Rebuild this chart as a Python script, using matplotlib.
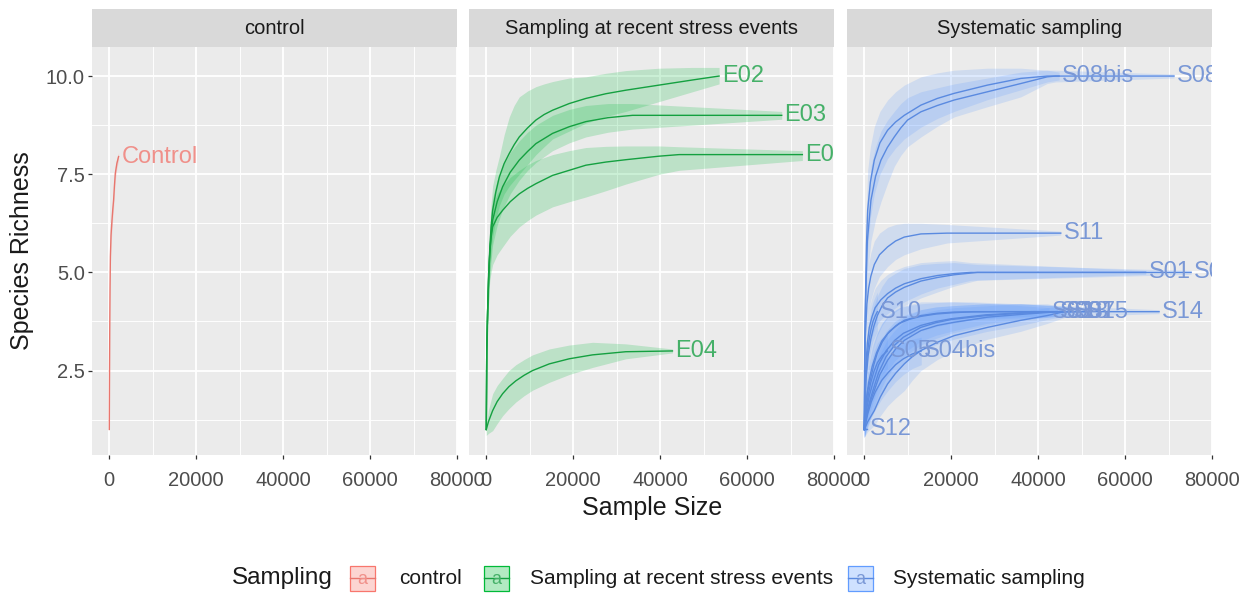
import matplotlib
matplotlib.use('Agg')
import matplotlib.pyplot as plt
from matplotlib.patches import Rectangle
from matplotlib.lines import Line2D

plt.rcParams['font.family'] = ['Liberation Sans', 'DejaVu Sans']

W, H = 1241, 596

# ---------------- data ----------------
panel_titles = ['control', 'Sampling at recent stress events', 'Systematic sampling']
group_colors = ['#F8766D', '#00BA38', '#619CFF']
line_colors = ['#E8766E', '#14A040', '#5A8AE0']
label_colors = ['#F0908A', '#45B068', '#7A98D6']

x_ticks = [0, 20000, 40000, 60000, 80000]
x_ticklabels = ['0', '20000', '40000', '60000', '80000']
y_ticks = [2.5, 5.0, 7.5, 10.0]
y_ticklabels = ['2.5', '5.0', '7.5', '10.0']

# control
Control_size = [1, 50, 100, 170, 250, 400, 620, 800, 990, 1180, 1380, 1750, 2140]
Control_rich = [1, 2.4, 3.5, 4.6, 5.4, 5.95, 6.33, 6.6, 6.84, 7.2, 7.52, 7.78, 7.95]
Control_lo = [0.95, 2.25, 3.3, 4.4, 5.15, 5.7, 6.08, 6.38, 6.62, 7.0, 7.35, 7.65, 7.85]
Control_hi = [1.05, 2.55, 3.7, 4.8, 5.65, 6.2, 6.58, 6.82, 7.06, 7.4, 7.69, 7.91, 8.05]

# sampling at recent stress events
E02_size = [1, 100, 300, 550, 800, 1100, 1460, 2200, 3000, 4100, 5290, 6400, 7590, 9500, 11420, 13300, 15250, 19080, 22910, 27500, 32110, 39770, 47430, 53560]
E02_rich = [1, 3.0, 4.0, 5.0, 5.6, 6.15, 6.58, 7.05, 7.43, 7.77, 8.03, 8.25, 8.45, 8.68, 8.88, 9.02, 9.13, 9.3, 9.43, 9.55, 9.64, 9.77, 9.9, 10.0]
E02_lo = [0.8, 2.5, 3.5, 4.4, 5.0, 5.5, 5.9, 6.35, 6.7, 7.0, 7.2, 7.35, 7.5, 7.75, 8.0, 8.2, 8.4, 8.6, 8.8, 8.97, 9.1, 9.35, 9.6, 9.8]
E02_hi = [1.2, 3.5, 4.5, 5.6, 6.2, 6.75, 7.2, 7.6, 7.95, 8.5, 8.96, 9.25, 9.47, 9.62, 9.73, 9.8, 9.86, 9.95, 9.98, 10.07, 10.14, 10.2, 10.22, 10.22]

E03_size = [1, 100, 300, 550, 800, 1100, 1460, 2500, 3750, 5500, 7590, 9500, 11420, 15250, 19080, 22910, 28000, 33640, 67970]
E03_rich = [1, 3.0, 4.0, 4.9, 5.5, 5.95, 6.33, 6.8, 7.18, 7.55, 7.86, 8.08, 8.28, 8.54, 8.71, 8.84, 8.94, 9.0, 9.0]
E03_lo = [0.8, 2.5, 3.5, 4.3, 4.9, 5.3, 5.7, 6.2, 6.6, 7.0, 7.35, 7.6, 7.8, 8.1, 8.3, 8.45, 8.57, 8.65, 8.9]
E03_hi = [1.2, 3.5, 4.5, 5.5, 6.1, 6.55, 6.9, 7.35, 7.7, 8.05, 8.35, 8.57, 8.75, 9.0, 9.15, 9.25, 9.3, 9.3, 9.1]

E01_size = [1, 100, 300, 550, 800, 1100, 1460, 2500, 3750, 5500, 7590, 9500, 11420, 15250, 19080, 22910, 27500, 32110, 39770, 44370, 72720]
E01_rich = [1, 3.0, 4.0, 4.9, 5.5, 5.88, 6.16, 6.4, 6.58, 6.8, 7.0, 7.14, 7.26, 7.47, 7.6, 7.73, 7.81, 7.87, 7.96, 8.0, 8.0]
E01_lo = [0.8, 2.5, 3.5, 4.3, 4.8, 5.0, 5.2, 5.45, 5.65, 5.92, 6.16, 6.32, 6.46, 6.67, 6.8, 6.92, 7.08, 7.25, 7.5, 7.6, 7.85]
E01_hi = [1.2, 3.5, 4.5, 5.5, 6.0, 6.4, 6.7, 7.0, 7.2, 7.42, 7.6, 7.74, 7.85, 8.0, 8.1, 8.18, 8.21, 8.22, 8.22, 8.2, 8.1]

E04_size = [1, 500, 1460, 2500, 3750, 5200, 6810, 8700, 10640, 14480, 19070, 24440, 32110, 42830]
E04_rich = [1, 1.2, 1.48, 1.71, 1.91, 2.09, 2.24, 2.38, 2.5, 2.67, 2.80, 2.90, 2.98, 3.0]
E04_lo = [0.85, 0.9, 0.97, 1.15, 1.35, 1.53, 1.7, 1.86, 2.0, 2.2, 2.4, 2.58, 2.8, 2.95]
E04_hi = [1.1, 1.5, 1.91, 2.12, 2.3, 2.5, 2.65, 2.78, 2.9, 3.05, 3.15, 3.22, 3.18, 3.05]

# systematic sampling
S08bis_size = [1, 100, 300, 500, 770, 1400, 2300, 3600, 5360, 7200, 9200, 13030, 16800, 20690, 28350, 36020, 42070, 44830]
S08bis_rich = [1, 3.2, 4.5, 5.7, 6.58, 7.3, 7.86, 8.3, 8.62, 8.83, 9.0, 9.26, 9.43, 9.56, 9.77, 9.94, 10.0, 10.0]
S08bis_lo = [0.8, 2.7, 3.8, 4.8, 5.6, 6.4, 7.0, 7.5, 7.9, 8.17, 8.4, 8.7, 8.92, 9.1, 9.4, 9.65, 9.85, 9.9]
S08bis_hi = [1.2, 3.7, 5.2, 6.6, 7.6, 8.2, 8.71, 9.1, 9.39, 9.6, 9.77, 9.98, 10.08, 10.15, 10.2, 10.2, 10.15, 10.1]

S08_size = [1, 100, 300, 700, 1530, 2600, 3830, 5300, 6900, 8400, 9960, 13030, 16800, 20690, 28350, 36020, 42070, 44000, 71260]
S08_rich = [1, 3.0, 4.3, 5.8, 6.84, 7.45, 7.86, 8.18, 8.45, 8.68, 8.88, 9.09, 9.25, 9.39, 9.6, 9.81, 9.98, 10.0, 10.0]
S08_lo = [0.8, 2.5, 3.6, 4.9, 5.8, 6.35, 6.8, 7.25, 7.7, 7.98, 8.2, 8.45, 8.72, 8.96, 9.22, 9.47, 9.81, 9.85, 9.95]
S08_hi = [1.2, 3.5, 5.0, 6.7, 7.7, 8.2, 8.6, 8.87, 9.1, 9.3, 9.45, 9.6, 9.7, 9.8, 9.95, 10.1, 10.15, 10.15, 10.05]

S11_size = [1, 200, 600, 1000, 1500, 2300, 3500, 5360, 7200, 9200, 13030, 19080, 45200]
S11_rich = [1, 3.3, 4.2, 4.6, 4.9, 5.2, 5.45, 5.65, 5.8, 5.9, 5.98, 6.0, 6.0]
S11_lo = [0.8, 2.8, 3.6, 4.0, 4.3, 4.6, 4.9, 5.15, 5.33, 5.45, 5.6, 5.75, 5.95]
S11_hi = [1.2, 3.8, 4.8, 5.2, 5.5, 5.8, 6.0, 6.15, 6.22, 6.25, 6.25, 6.22, 6.05]

S01_size = [1, 300, 700, 1150, 1800, 2500, 3800, 5360, 7200, 9200, 13030, 16800, 20690, 24520, 64750]
S01_rich = [1, 2.5, 3.2, 3.6, 3.88, 4.1, 4.3, 4.46, 4.6, 4.71, 4.84, 4.92, 4.97, 5.0, 5.0]
S01_lo = [0.8, 2.0, 2.7, 3.1, 3.38, 3.6, 3.8, 3.95, 4.1, 4.25, 4.45, 4.6, 4.7, 4.8, 4.95]
S01_hi = [1.2, 3.0, 3.7, 4.1, 4.38, 4.6, 4.8, 4.95, 5.06, 5.15, 5.25, 5.28, 5.3, 5.25, 5.05]

S02_size = [1, 400, 900, 1500, 2200, 3000, 4100, 5360, 7200, 9200, 13030, 16800, 20690, 26000, 75200]
S02_rich = [1, 2.3, 2.9, 3.3, 3.63, 3.9, 4.15, 4.35, 4.5, 4.62, 4.78, 4.87, 4.94, 5.0, 5.0]
S02_lo = [0.8, 1.8, 2.4, 2.8, 3.13, 3.4, 3.65, 3.85, 4.0, 4.15, 4.35, 4.5, 4.65, 4.8, 4.95]
S02_hi = [1.2, 2.8, 3.4, 3.8, 4.13, 4.4, 4.65, 4.85, 4.98, 5.1, 5.2, 5.23, 5.25, 5.2, 5.05]

S03_size = [1, 300, 800, 1530, 2200, 3000, 4100, 5360, 7200, 9200, 13030, 16800, 20690, 30000, 42500]
S03_rich = [1, 1.6, 2.0, 2.33, 2.65, 2.95, 3.22, 3.44, 3.63, 3.78, 3.9, 3.96, 3.99, 4.0, 4.0]
S03_lo = [0.8, 1.2, 1.5, 1.8, 2.1, 2.4, 2.7, 2.95, 3.15, 3.3, 3.6, 3.7, 3.75, 3.85, 3.9]
S03_hi = [1.2, 2.0, 2.45, 2.85, 3.17, 3.45, 3.7, 3.9, 4.05, 4.15, 4.25, 4.25, 4.25, 4.2, 4.1]

S09_size = [1, 800, 1500, 2300, 3600, 5360, 7200, 9200, 13030, 16800, 20690, 28350, 36020, 42070, 44400]
S09_rich = [1, 1.5, 1.75, 1.99, 2.4, 2.76, 3.05, 3.27, 3.52, 3.65, 3.73, 3.86, 3.93, 3.98, 4.0]
S09_lo = [0.8, 1.1, 1.3, 1.5, 1.85, 2.2, 2.47, 2.7, 3.0, 3.17, 3.3, 3.5, 3.65, 3.8, 3.85]
S09_hi = [1.2, 1.9, 2.2, 2.5, 2.92, 3.3, 3.55, 3.75, 3.95, 4.05, 4.1, 4.15, 4.2, 4.2, 4.15]

S13_size = [1, 800, 1500, 2300, 3700, 5360, 7200, 9200, 11000, 13030, 16800, 20690, 28350, 36020, 42070, 46000]
S13_rich = [1, 1.2, 1.33, 1.48, 1.83, 2.16, 2.43, 2.67, 2.85, 3.01, 3.22, 3.39, 3.6, 3.78, 3.9, 4.0]
S13_lo = [0.8, 0.95, 1.02, 1.1, 1.35, 1.6, 1.8, 1.99, 2.25, 2.5, 2.78, 3.0, 3.3, 3.5, 3.7, 3.85]
S13_hi = [1.2, 1.5, 1.7, 1.9, 2.33, 2.75, 3.05, 3.3, 3.42, 3.5, 3.65, 3.75, 3.9, 4.0, 4.1, 4.15]

S07_size = [1, 500, 1200, 2000, 3300, 5000, 7000, 9000, 13000, 16500, 20000, 28000, 36000, 43000, 47500]
S07_rich = [1, 1.5, 1.88, 2.2, 2.65, 3.0, 3.27, 3.45, 3.65, 3.75, 3.82, 3.92, 3.97, 4.0, 4.0]
S07_lo = [0.8, 1.1, 1.4, 1.7, 2.1, 2.45, 2.75, 2.95, 3.25, 3.4, 3.5, 3.7, 3.8, 3.88, 3.9]
S07_hi = [1.2, 1.9, 2.33, 2.7, 3.15, 3.5, 3.75, 3.9, 4.05, 4.12, 4.15, 4.2, 4.2, 4.15, 4.1]

S15_size = [1, 600, 1200, 2000, 3300, 5000, 7000, 9000, 13000, 16500, 20000, 28000, 36000, 44000, 50600]
S15_rich = [1, 1.4, 1.7, 2.0, 2.45, 2.85, 3.15, 3.35, 3.6, 3.72, 3.8, 3.9, 3.96, 4.0, 4.0]
S15_lo = [0.8, 1.05, 1.25, 1.5, 1.9, 2.3, 2.62, 2.85, 3.15, 3.32, 3.45, 3.65, 3.78, 3.88, 3.9]
S15_hi = [1.2, 1.75, 2.1, 2.5, 2.98, 3.4, 3.68, 3.85, 4.05, 4.12, 4.15, 4.2, 4.2, 4.15, 4.1]

S14_size = [1, 400, 1000, 1800, 2800, 4000, 5800, 8000, 10500, 13000, 16500, 20000, 25000, 67820]
S14_rich = [1, 1.7, 2.2, 2.6, 2.95, 3.25, 3.5, 3.7, 3.81, 3.88, 3.94, 3.97, 4.0, 4.0]
S14_lo = [0.8, 1.3, 1.75, 2.1, 2.45, 2.75, 3.02, 3.25, 3.4, 3.5, 3.62, 3.7, 3.8, 3.95]
S14_hi = [1.2, 2.1, 2.65, 3.1, 3.43, 3.7, 3.92, 4.1, 4.16, 4.2, 4.23, 4.25, 4.25, 4.05]

S10_size = [1, 200, 400, 600, 900, 1200, 1600, 2000, 2500, 3000]
S10_rich = [1, 2.0, 2.45, 2.8, 3.1, 3.35, 3.58, 3.75, 3.89, 4.0]
S10_lo = [0.8, 1.6, 2.0, 2.3, 2.6, 2.85, 3.08, 3.25, 3.38, 3.5]
S10_hi = [1.2, 2.4, 2.9, 3.3, 3.6, 3.85, 4.08, 4.25, 4.38, 4.5]

S05_size = [1, 500, 1000, 1500, 2200, 3000, 4100, 5300]
S05_rich = [1, 1.6, 1.93, 2.2, 2.47, 2.7, 2.88, 3.0]
S05_lo = [0.8, 1.2, 1.46, 1.7, 1.96, 2.2, 2.4, 2.55]
S05_hi = [1.2, 2.0, 2.4, 2.7, 2.98, 3.2, 3.35, 3.45]

S04bis_size = [1, 800, 1600, 2500, 4000, 5500, 7200, 9000, 11000, 13100]
S04bis_rich = [1, 1.4, 1.7, 1.95, 2.25, 2.45, 2.65, 2.8, 2.92, 3.0]
S04bis_lo = [0.8, 1.05, 1.3, 1.5, 1.78, 2.0, 2.22, 2.4, 2.55, 2.65]
S04bis_hi = [1.2, 1.75, 2.1, 2.4, 2.7, 2.9, 3.07, 3.2, 3.3, 3.35]

S12_size = [1, 700]
S12_rich = [1, 1]
S12_lo = [0.95, 0.95]
S12_hi = [1.05, 1.05]

curves = [
    (0, 'Control', Control_size, Control_rich, Control_lo, Control_hi),
    (1, 'E02', E02_size, E02_rich, E02_lo, E02_hi),
    (1, 'E03', E03_size, E03_rich, E03_lo, E03_hi),
    (1, 'E01', E01_size, E01_rich, E01_lo, E01_hi),
    (1, 'E04', E04_size, E04_rich, E04_lo, E04_hi),
    (2, 'S08bis', S08bis_size, S08bis_rich, S08bis_lo, S08bis_hi),
    (2, 'S08', S08_size, S08_rich, S08_lo, S08_hi),
    (2, 'S11', S11_size, S11_rich, S11_lo, S11_hi),
    (2, 'S01', S01_size, S01_rich, S01_lo, S01_hi),
    (2, 'S02', S02_size, S02_rich, S02_lo, S02_hi),
    (2, 'S03', S03_size, S03_rich, S03_lo, S03_hi),
    (2, 'S09', S09_size, S09_rich, S09_lo, S09_hi),
    (2, 'S13', S13_size, S13_rich, S13_lo, S13_hi),
    (2, 'S07', S07_size, S07_rich, S07_lo, S07_hi),
    (2, 'S15', S15_size, S15_rich, S15_lo, S15_hi),
    (2, 'S14', S14_size, S14_rich, S14_lo, S14_hi),
    (2, 'S10', S10_size, S10_rich, S10_lo, S10_hi),
    (2, 'S05', S05_size, S05_rich, S05_lo, S05_hi),
    (2, 'S04bis', S04bis_size, S04bis_rich, S04bis_lo, S04bis_hi),
    (2, 'S12', S12_size, S12_rich, S12_lo, S12_hi),
]

legend_title = 'Sampling'
legend_labels = ['control', 'Sampling at recent stress events', 'Systematic sampling']

# ---------------- layout ----------------
fig = plt.figure(figsize=(W / 100, H / 100), dpi=100)

panel_left_px = [92, 469, 847]
panel_w_px = 365
plot_top_px, plot_bot_px = 47, 455
strip_top_px = 9

axes = []
for i in range(3):
    l = panel_left_px[i] / W
    b = 1 - plot_bot_px / H
    w = panel_w_px / W
    h = (plot_bot_px - plot_top_px) / H
    ax = fig.add_axes([l, b, w, h])
    ax.set_facecolor('#EBEBEB')
    for sp in ax.spines.values():
        sp.set_visible(False)
    ax.set_xlim(-3980, 80000)
    ax.set_ylim(0.35, 10.74)
    ax.set_xticks(x_ticks)
    ax.set_xticklabels(x_ticklabels)
    ax.set_xticks([10000, 30000, 50000, 70000], minor=True)
    ax.set_yticks(y_ticks)
    ax.set_yticks([1.25, 3.75, 6.25, 8.75], minor=True)
    if i == 0:
        ax.set_yticklabels(y_ticklabels)
    else:
        ax.tick_params(axis='y', which='major', labelleft=False)
    ax.grid(which='major', color='white', linewidth=1.3)
    ax.grid(which='minor', color='white', linewidth=0.65)
    ax.set_axisbelow(True)
    ax.tick_params(which='major', length=3.2, width=0.9, color='#333333',
                   labelsize=14.5, labelcolor='#4D4D4D')
    ax.tick_params(axis='x', which='major', pad=8)
    ax.tick_params(axis='y', which='major', pad=2.0, length=3.2 if i == 0 else 0)
    ax.tick_params(which='minor', length=0)
    axes.append(ax)

    sax = fig.add_axes([l, 1 - plot_top_px / H, w, (plot_top_px - strip_top_px) / H])
    sax.set_facecolor('#D9D9D9')
    for sp in sax.spines.values():
        sp.set_visible(False)
    sax.set_xticks([])
    sax.set_yticks([])
    sax.text(0.5, 0.5, panel_titles[i], ha='center', va='center',
             fontsize=14.5, color='#1A1A1A', transform=sax.transAxes)

# ribbons
for p, name, sz, rich, lo, hi in curves:
    axes[p].fill_between(sz, lo, hi, color=group_colors[p], alpha=0.2, linewidth=0, zorder=2)
# lines
for p, name, sz, rich, lo, hi in curves:
    axes[p].plot(sz, rich, color=line_colors[p], linewidth=1.0, zorder=3)
# labels
for p, name, sz, rich, lo, hi in curves:
    axes[p].annotate(name, (sz[-1], rich[-1]), xytext=(2, 0), textcoords='offset points',
                     ha='left', va='center', fontsize=17, color=label_colors[p],
                     clip_on=True, zorder=4)

# axis titles
fig.text(22 / W, 1 - 251 / H, 'Species Richness', rotation=90, ha='center', va='center',
         fontsize=18, color='#1A1A1A')
fig.text(652 / W, 1 - 508 / H, 'Sample Size', ha='center', va='center',
         fontsize=18, color='#1A1A1A')

# legend (manual)
ly = 578
fig.text(232 / W, 1 - ly / H, legend_title, ha='left', va='center', fontsize=17.5, color='#1A1A1A')
key_x = [350, 484, 848]
text_x = [399, 530, 893]
ks = 25
for k in range(3):
    x0 = key_x[k]
    fig.add_artist(Rectangle((x0 / W, 1 - (ly + ks / 2) / H), ks / W, ks / H,
                             transform=fig.transFigure, facecolor=group_colors[k],
                             alpha=0.3, edgecolor='none'))
    fig.add_artist(Rectangle((x0 / W, 1 - (ly + ks / 2) / H), ks / W, ks / H,
                             transform=fig.transFigure, facecolor='none',
                             edgecolor=group_colors[k], linewidth=0.9))
    fig.add_artist(Line2D([x0 / W, (x0 + ks) / W], [1 - ly / H, 1 - ly / H],
                          transform=fig.transFigure, color=line_colors[k], linewidth=1.0))
    fig.text((x0 + ks / 2) / W, 1 - (ly + 1) / H, 'a', ha='center', va='center',
             fontsize=13, color=label_colors[k])
    fig.text(text_x[k] / W, 1 - ly / H, legend_labels[k], ha='left', va='center',
             fontsize=15, color='#1A1A1A')

fig.savefig('out.png', dpi=100, facecolor='white')
